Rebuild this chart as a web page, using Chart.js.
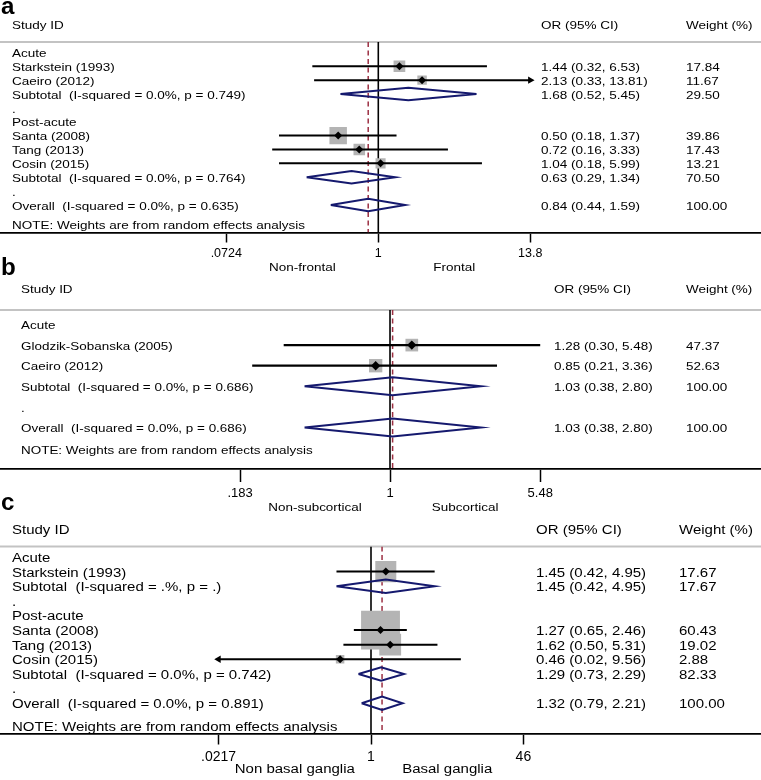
<!DOCTYPE html>
<html><head><meta charset="utf-8">
<script src="https://cdn.jsdelivr.net/npm/chart.js@4.4.1/dist/chart.umd.min.js"></script>
<style>
html,body{margin:0;padding:0;background:#fff;}
#wrap{position:relative;width:761px;height:780px;overflow:hidden;background:#fff;}
canvas{position:absolute;left:0;top:0;}
</style></head><body>
<div id="wrap">
<canvas id="pa" width="761" height="780"></canvas>
<canvas id="pb" width="761" height="780"></canvas>
<canvas id="pc" width="761" height="780"></canvas>
</div>
<script>
// ---------------- DATA ----------------
const noteText = 'NOTE: Weights are from random effects analysis';
const headStudy = 'Study ID', headOR = 'OR (95% CI)', headW = 'Weight (%)';

// Panel a
const aLabels = ['Acute','Starkstein (1993)','Caeiro (2012)','Subtotal  (I-squared = 0.0%, p = 0.749)','.','Post-acute','Santa (2008)','Tang (2013)','Cosin (2015)','Subtotal  (I-squared = 0.0%, p = 0.764)','.','Overall  (I-squared = 0.0%, p = 0.635)'];
const aKinds  = ['group','study','study','pooled','blank','group','study','study','study','pooled','blank','pooled'];
const aOR     = [null,1.44,2.13,1.68,null,null,0.50,0.72,1.04,0.63,null,0.84];
const aLower  = [null,0.32,0.33,0.52,null,null,0.18,0.16,0.18,0.29,null,0.44];
const aUpper  = [null,6.53,13.81,5.45,null,null,1.37,3.33,5.99,1.34,null,1.59];
const aWeight = [null,17.84,11.67,29.50,null,null,39.86,17.43,13.21,70.50,null,100.00];
const aTicks = [0.0724, 1, 13.8];
const aTickLabels = ['.0724','1','13.8'];
const aFavours = ['Non-frontal','Frontal'];

// Panel b
const bLabels = ['Acute','Glodzik-Sobanska (2005)','Caeiro (2012)','Subtotal  (I-squared = 0.0%, p = 0.686)','.','Overall  (I-squared = 0.0%, p = 0.686)'];
const bKinds  = ['group','study','study','pooled','blank','pooled'];
const bOR     = [null,1.28,0.85,1.03,null,1.03];
const bLower  = [null,0.30,0.21,0.38,null,0.38];
const bUpper  = [null,5.48,3.36,2.80,null,2.80];
const bWeight = [null,47.37,52.63,100.00,null,100.00];
const bTicks = [0.183, 1, 5.48];
const bTickLabels = ['.183','1','5.48'];
const bFavours = ['Non-subcortical','Subcortical'];

// Panel c
const cLabels = ['Acute','Starkstein (1993)','Subtotal  (I-squared = .%, p = .)','.','Post-acute','Santa (2008)','Tang (2013)','Cosin (2015)','Subtotal  (I-squared = 0.0%, p = 0.742)','.','Overall  (I-squared = 0.0%, p = 0.891)'];
const cKinds  = ['group','study','pooled','blank','group','study','study','study','pooled','blank','pooled'];
const cOR     = [null,1.45,1.45,null,null,1.27,1.62,0.46,1.29,null,1.32];
const cLower  = [null,0.42,0.42,null,null,0.65,0.50,0.02,0.73,null,0.79];
const cUpper  = [null,4.95,4.95,null,null,2.46,5.31,9.56,2.29,null,2.21];
const cWeight = [null,17.67,17.67,null,null,60.43,19.02,2.88,82.33,null,100.00];
const cTicks = [0.0217, 1, 46];
const cTickLabels = ['.0217','1','46'];
const cFavours = ['Non basal ganglia','Basal ganglia'];

// ---------------- LAYOUT / STYLE ----------------
const W = 761, H = 780;
const FONT = '"Liberation Sans", Arial, Helvetica, sans-serif';
const layoutA = {letter:'a', letterY:13.5, headerY:42, axisY:232.5, row0:52.4, rowH:13.87, nullX:378.3, pxLn:57.9,
  labelX:12, orX:541, wX:686, headTextY:26, noteY:226, favY:268, tickLen:10, tickFont:12.5,
  boxK:2.77, dmdH:0.45, mkR:4, ciW:2, fs:11.6, sx:1.165};
const layoutB = {letter:'b', letterY:275, headerY:310, axisY:469, row0:324.5, rowH:20.6, nullX:390, pxLn:88.3,
  labelX:21, orX:554, wX:686, headTextY:290, noteY:451, favY:508, tickLen:13, tickFont:13,
  boxK:1.84, dmdH:0.44, mkR:4.7, ciW:2.3, fs:11.6, sx:1.16};
const layoutC = {letter:'c', letterY:510, headerY:546.5, axisY:733.5, row0:557, rowH:14.62, nullX:371, pxLn:39.8,
  labelX:12, orX:536, wX:679, headTextY:531, noteY:727.5, favY:770, tickLen:11, tickFont:14,
  boxK:5.0, dmdH:0.46, mkR:4, ciW:2, fs:12.3, sx:1.22};

function txt(ctx, s, x, y, o) {
  ctx.save();
  ctx.font = (o.bold ? 'bold ' : '') + o.size + 'px ' + FONT;
  ctx.fillStyle = '#000';
  ctx.textBaseline = o.baseline || 'middle';
  ctx.textAlign = o.align || 'left';
  ctx.translate(x, y);
  ctx.scale(o.sx || 1, 1);
  ctx.fillText(s, 0, 0);
  ctx.restore();
}
const f2 = v => v.toFixed(2);

function buildPanel(id, d, L) {
  const tMin = d.ticks[0], tMax = d.ticks[d.ticks.length - 1];
  const xMin = Math.exp(-L.nullX / L.pxLn), xMax = Math.exp((W - L.nullX) / L.pxLn);
  const yMin = (L.headerY - L.row0) / L.rowH, yMax = (L.axisY - L.row0) / L.rowH;
  const overallIdx = d.kinds.lastIndexOf('pooled');
  const overall = d.or[overallIdx];
  const studyIdx = d.kinds.map((k, i) => k === 'study' ? i : -1).filter(i => i >= 0);

  const ds = [];
  ds.push({type:'line', data:[{x:1,y:yMin},{x:1,y:yMax}], borderColor:'#000', borderWidth:1.6, pointRadius:0, order:30});
  ds.push({type:'line', data:[{x:overall,y:yMin},{x:overall,y:yMax}], borderColor:'#9c2f42', borderWidth:1.5, borderDash:[5,3.5], pointRadius:0, order:29});
  ds.push({type:'scatter', data: studyIdx.map(i => ({x:d.or[i], y:i, w:d.w[i]})), pointStyle:'rect',
    pointRadius: c => c.raw ? L.boxK * Math.sqrt(c.raw.w) / Math.SQRT2 : 0,
    pointBackgroundColor:'#b4b4b4', pointBorderWidth:0, order:20});
  studyIdx.forEach(i => {
    ds.push({type:'line', data:[{x:Math.max(d.lo[i], tMin), y:i},{x:Math.min(d.hi[i], tMax), y:i}],
      borderColor:'#000', borderWidth:L.ciW, pointRadius:0, order:15});
  });
  const arrows = [];
  studyIdx.forEach(i => {
    if (d.hi[i] > tMax) arrows.push({x:tMax, y:i, r:90});
    if (d.lo[i] < tMin) arrows.push({x:tMin, y:i, r:-90});
  });
  if (arrows.length) ds.push({type:'scatter', data:arrows, pointStyle:'triangle', pointRadius:4.3,
    pointRotation: c => c.raw ? c.raw.r : 0, pointBackgroundColor:'#000', pointBorderWidth:0, order:14});
  d.kinds.forEach((k, i) => {
    if (k === 'pooled') ds.push({type:'line', data:[
      {x:d.lo[i], y:i},{x:d.or[i], y:i - L.dmdH},{x:d.hi[i], y:i},{x:d.or[i], y:i + L.dmdH},{x:d.lo[i], y:i}],
      borderColor:'#15196e', borderWidth:2, pointRadius:0, fill:false, tension:0, borderJoinStyle:'miter', order:10});
  });
  ds.push({type:'scatter', data: studyIdx.map(i => ({x:d.or[i], y:i})), pointStyle:'rectRot', pointRadius:L.mkR,
    pointBackgroundColor:'#000', pointBorderWidth:0, order:5});

  const textPlugin = {
    id: 'forestText_' + id,
    beforeDatasetsDraw(chart) {
      const {ctx, chartArea} = chart;
      ctx.save();
      ctx.strokeStyle = '#c3c3c3'; ctx.lineWidth = 1.8;
      ctx.beginPath(); ctx.moveTo(0, chartArea.top); ctx.lineTo(W, chartArea.top); ctx.stroke();
      ctx.restore();
    },
    afterDraw(chart) {
      const ctx = chart.ctx, ys = chart.scales.y, xs = chart.scales.x;
      const o = {size:L.fs, sx:L.sx};
      txt(ctx, L.letter, 1, L.letterY, {size:23, sx:1.05, bold:true, baseline:'alphabetic'});
      txt(ctx, headStudy, L.labelX, L.headTextY, o);
      txt(ctx, headOR, L.orX, L.headTextY, o);
      txt(ctx, headW, L.wX, L.headTextY, o);
      d.labels.forEach((lab, i) => {
        const y = ys.getPixelForValue(i) + 1.5;
        txt(ctx, lab, L.labelX, y, o);
        if (d.or[i] != null) {
          txt(ctx, f2(d.or[i]) + ' (' + f2(d.lo[i]) + ', ' + f2(d.hi[i]) + ')', L.orX, y, o);
          txt(ctx, f2(d.w[i]), L.wX, y, o);
        }
      });
      txt(ctx, noteText, L.labelX, L.noteY, o);
      txt(ctx, d.favours[0], xs.getPixelForValue(Math.sqrt(tMin)), L.favY, Object.assign({align:'center'}, o));
      txt(ctx, d.favours[1], xs.getPixelForValue(Math.sqrt(tMax)), L.favY, Object.assign({align:'center'}, o));
    }
  };

  return new Chart(document.getElementById(id), {
    type: 'scatter',
    data: {datasets: ds},
    options: {
      responsive: false, animation: false, events: [],
      layout: {autoPadding: false, padding: {left:0, right:0, top:L.headerY, bottom: H - L.axisY - 40}},
      plugins: {legend:{display:false}, tooltip:{enabled:false}, title:{display:false}},
      scales: {
        x: {
          type: 'logarithmic', min: xMin, max: xMax, position: 'bottom',
          afterFit: s => { s.height = 40; },
          afterBuildTicks: s => { s.ticks = d.ticks.map(v => ({value: v})); },
          ticks: {autoSkip:false, maxRotation:0, padding:4, color:'#000',
            font:{family:FONT, size:L.tickFont},
            callback: (v, i) => d.tickLabels[i]},
          grid: {display:true, drawOnChartArea:false, drawTicks:true, tickLength:L.tickLen, tickColor:'#000', tickWidth:1.5},
          border: {display:true, color:'#000', width:1.8}
        },
        y: {type:'linear', reverse:true, min:yMin, max:yMax, display:false}
      }
    },
    plugins: [textPlugin]
  });
}

buildPanel('pa', {labels:aLabels, kinds:aKinds, or:aOR, lo:aLower, hi:aUpper, w:aWeight, ticks:aTicks, tickLabels:aTickLabels, favours:aFavours}, layoutA);
buildPanel('pb', {labels:bLabels, kinds:bKinds, or:bOR, lo:bLower, hi:bUpper, w:bWeight, ticks:bTicks, tickLabels:bTickLabels, favours:bFavours}, layoutB);
buildPanel('pc', {labels:cLabels, kinds:cKinds, or:cOR, lo:cLower, hi:cUpper, w:cWeight, ticks:cTicks, tickLabels:cTickLabels, favours:cFavours}, layoutC);
</script>
</body></html>
